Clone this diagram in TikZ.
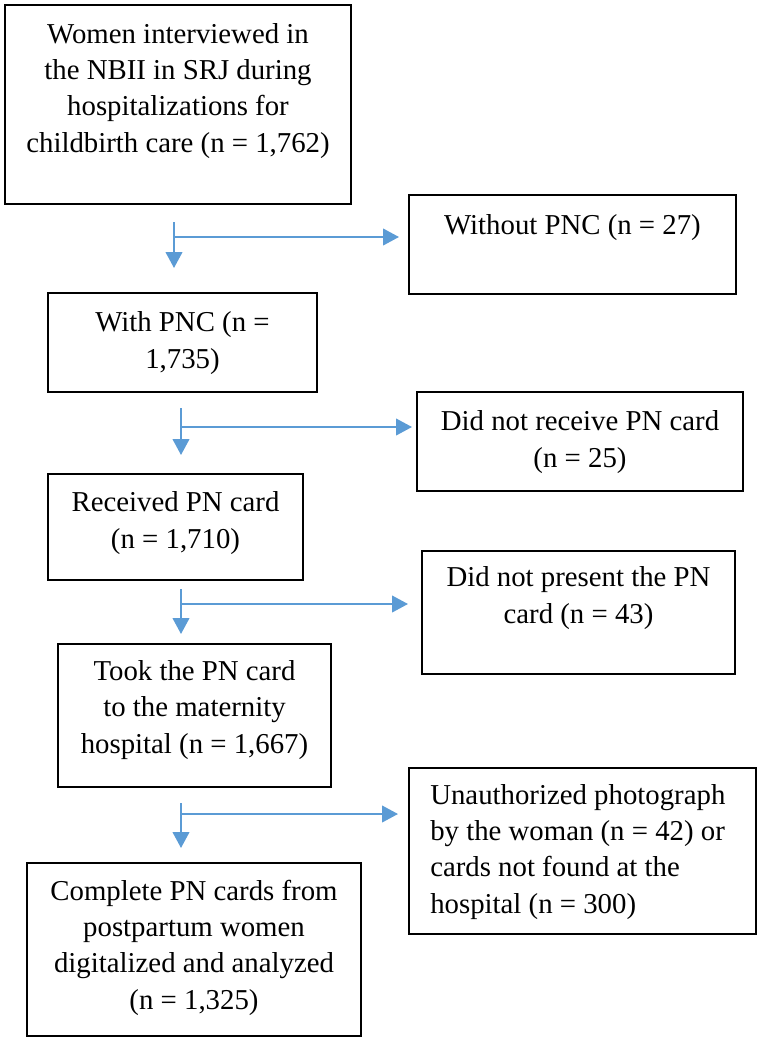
\documentclass[tikz,border=0pt]{standalone}
\usepackage{fontspec}
\setmainfont{Liberation Serif}
\usetikzlibrary{arrows.meta,fit}
\definecolor{flowblue}{RGB}{91,155,213}
\tikzset{
  box/.style={draw=black,line width=1.6pt,inner sep=0pt},
  txt/.style={anchor=base,align=center,inner sep=0pt,font=\fontsize{21.6}{27.2}\selectfont},
  flow/.style={draw=flowblue,line width=1.5pt,-{Triangle[length=12pt,width=12.5pt]}}
}
\begin{document}
\begin{tikzpicture}[x=0.75pt,y=-0.75pt]
  \useasboundingbox (0,0) rectangle (761,1042);
  % main column
  \node[box,fit={(5,5) (351,204)}] (women) {};
  \node[box,fit={(48,293) (317,392)}] (withpnc) {};
  \node[box,fit={(48,474) (303,580)}] (received) {};
  \node[box,fit={(58,644) (331,787)}] (took) {};
  \node[box,fit={(27,863) (361,1036)}] (complete) {};
  % side column
  \node[box,fit={(409,195) (736,294)}] (without) {};
  \node[box,fit={(417,392) (743,491)}] (notrec) {};
  \node[box,fit={(422,551) (735,674)}] (notpres) {};
  \node[box,fit={(409,768) (756,934)}] (unauth) {};
  % texts (anchored at the baseline of the last line)
  \node[txt] (womentxt) at (178,152) {Women interviewed in\\the NBII in SRJ during\\hospitalizations for\\childbirth care (n = 1,762)};
  \node[txt] (withpnctxt) at (182.5,368) {With PNC (n =\\1,735)};
  \node[txt] (receivedtxt) at (175.5,548) {Received PN card\\(n = 1,710)};
  \node[txt] (tooktxt) at (194.5,753) {Took the PN card\\to the maternity\\hospital (n = 1,667)};
  \node[txt] (completetxt) at (194,1009) {Complete PN cards from\\postpartum women\\digitalized and analyzed\\(n = 1,325)};
  \node[txt] (withouttxt) at (572.5,234) {Without PNC (n = 27)};
  \node[txt] (notrectxt) at (580,467) {Did not receive PN card\\(n = 25)};
  \node[txt] (notprestxt) at (578.5,623) {Did not present the PN\\card (n = 43)};
  \node[txt,anchor=base west,align=left] (unauthtxt) at (430,913) {Unauthorized photograph\\by the woman (n = 42) or\\cards not found at the\\hospital (n = 300)};
  % arrows
  \coordinate (s1) at (174,222);
  \coordinate (j1) at (174,237);
  \coordinate (d1) at (174,268);
  \coordinate (r1) at (399,237);
  \coordinate (s2) at (181,408);
  \coordinate (j2) at (181,427);
  \coordinate (d2) at (181,455);
  \coordinate (r2) at (412,427);
  \coordinate (s3) at (181,589);
  \coordinate (j3) at (181,604);
  \coordinate (d3) at (181,634);
  \coordinate (r3) at (408,604);
  \coordinate (s4) at (181,803);
  \coordinate (j4) at (181,814);
  \coordinate (d4) at (181,848);
  \coordinate (r4) at (398,814);
  \draw[flow](s1)--(d1);
  \draw[flow](j1)--(r1);
  \draw[flow](s2)--(d2);
  \draw[flow](j2)--(r2);
  \draw[flow](s3)--(d3);
  \draw[flow](j3)--(r3);
  \draw[flow](s4)--(d4);
  \draw[flow](j4)--(r4);
\end{tikzpicture}
\end{document}
